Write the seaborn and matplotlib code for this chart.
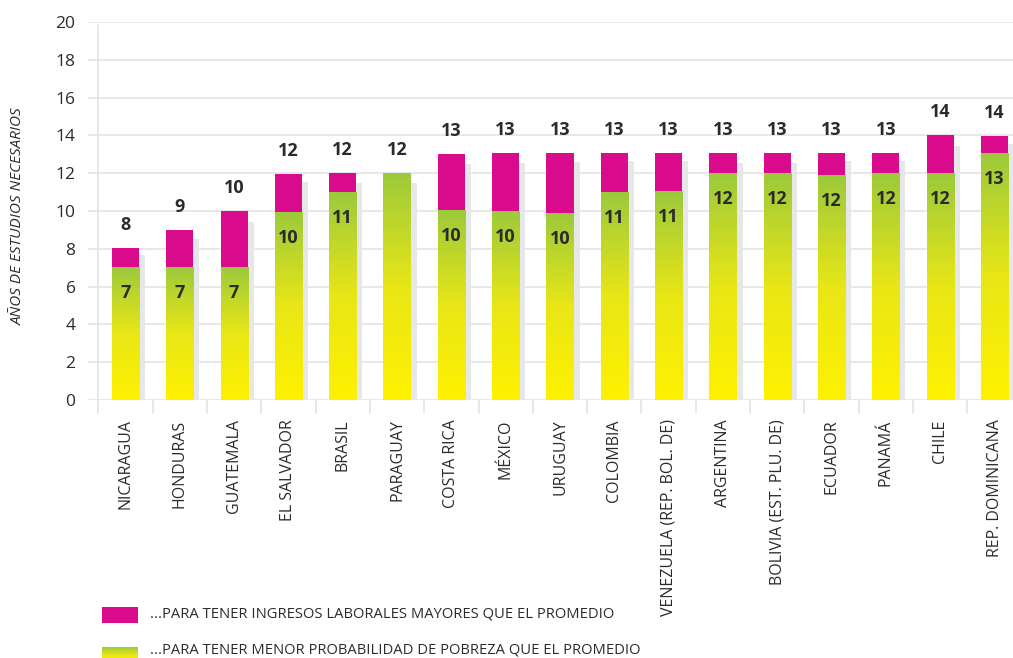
import numpy as np
import pandas as pd
import matplotlib
matplotlib.use("Agg")
import matplotlib.pyplot as plt
import seaborn as sns
from matplotlib.colors import LinearSegmentedColormap
from matplotlib.patches import Rectangle

countries = ["NICARAGUA", "HONDURAS", "GUATEMALA", "EL SALVADOR", "BRASIL", "PARAGUAY",
             "COSTA RICA", "MÉXICO", "URUGUAY", "COLOMBIA", "VENEZUELA (REP. BOL. DE)",
             "ARGENTINA", "BOLIVIA (EST. PLU. DE)", "ECUADOR", "PANAMÁ", "CHILE",
             "REP. DOMINICANA"]
poverty_years = [7.05, 7.05, 7.05, 9.95, 11.0, 12.0, 10.05, 10.0, 9.9, 11.0, 11.05,
                 12.0, 12.0, 11.9, 12.0, 12.0, 13.07]
income_years = [8.04, 9.0, 10.0, 11.96, 12.02, 12.0, 13.0, 13.07, 13.07, 13.07, 13.07,
                13.07, 13.07, 13.07, 13.07, 14.02, 13.97]
shadow_years = [7.67, 8.52, 9.42, 11.53, 11.48, 11.48, 12.49, 12.54, 12.59, 12.65, 12.65,
                12.54, 12.54, 12.65, 12.65, 13.44, 13.55]
top_labels = ["8", "9", "10", "12", "12", "12", "13", "13", "13", "13", "13", "13", "13",
              "13", "13", "14", "14"]
inner_labels = ["7", "7", "7", "10", "11", "", "10", "10", "10", "11", "11", "12", "12",
                "12", "12", "12", "13"]
yticks = [0, 2, 4, 6, 8, 10, 12, 14, 16, 18, 20]
legend_labels = ["...PARA TENER INGRESOS LABORALES MAYORES QUE EL PROMEDIO",
                 "...PARA TENER MENOR PROBABILIDAD DE POBREZA QUE EL PROMEDIO"]
y_title = "AÑOS DE ESTUDIOS NECESARIOS"

MAGENTA = "#D90B8C"
SHADOW = "#E6E7E8"
GRID = "#E4E4E4"
TXT = "#2B2B2B"
grad_cmap = LinearSegmentedColormap.from_list("yg", ["#FFF100", "#E8E616", "#9CC93C"])

sns.set_theme(style="white")
plt.rcParams["font.family"] = ["Open Sans", "DejaVu Sans"]

W, H = 1013, 658
fig = plt.figure(figsize=(W / 100, H / 100), dpi=100)
ax = fig.add_axes([88 / W, (H - 400) / H, (W - 88) / W, 378 / H])

df = pd.DataFrame({"pais": countries, "pobreza": poverty_years,
                   "ingresos": income_years, "sombra": shadow_years})
n = len(countries)
idx = np.arange(n)

# shadow bars (offset to the right)
ax.bar(idx + 0.11, df["sombra"], width=0.5, color=SHADOW, zorder=1, linewidth=0)

sns.barplot(data=df, x="pais", y="ingresos", color=MAGENTA, saturation=1, width=0.5,
            errorbar=None, ax=ax, zorder=2, linewidth=0)
nmag = len(ax.patches)
sns.barplot(data=df, x="pais", y="pobreza", color="#9CC93C", saturation=1, width=0.5,
            errorbar=None, ax=ax, zorder=3, linewidth=0)
green_patches = ax.patches[nmag:]

grad = np.linspace(0, 1, 256).reshape(-1, 1)
for p in green_patches:
    x0, y0 = p.get_x(), p.get_y()
    w, h = p.get_width(), p.get_height()
    p.set_facecolor("none")
    im = ax.imshow(grad, cmap=grad_cmap, origin="lower", aspect="auto",
                   extent=(x0, x0 + w, y0, y0 + h), zorder=3, interpolation="bilinear")
    im.set_clip_path(p)

# labels
for i in range(n):
    ax.text(i, income_years[i] + 0.95, top_labels[i], ha="center", va="baseline",
            fontsize=13, fontweight="bold", color=TXT, zorder=5)
    if inner_labels[i]:
        ax.text(i, poverty_years[i] - 1.65, inner_labels[i], ha="center", va="baseline",
                fontsize=13, fontweight="bold", color=TXT, zorder=5)

ax.set_xlim(-0.69, 16.34)
ax.set_ylim(0, 20)
ax.set_yticks(yticks)
ax.set_yticklabels([str(t) for t in yticks], fontsize=12.5, color=TXT)
ax.yaxis.grid(True, color=GRID, linewidth=1.2, zorder=0)
ax.set_axisbelow(True)
for s in ax.spines.values():
    s.set_visible(False)
ax.tick_params(axis="y", length=0, pad=9)
ax.tick_params(axis="x", length=0, pad=14)
ax.set_xticks(idx)
ax.set_xticklabels(countries, rotation=90, fontsize=11.5, color=TXT, va="top")
ax.set_xlabel("")
ax.set_ylabel(y_title, fontsize=11, fontstyle="italic", color=TXT)
ax.yaxis.set_label_coords(-0.067, 0.487)

# vertical axis line and category separators
ax.plot([-0.5, -0.5], [-0.7, 19.85], color=GRID, linewidth=1.2, clip_on=False, zorder=0)
for i in range(1, n + 1):
    ax.plot([i - 0.5, i - 0.5], [-0.7, 0], color=GRID, linewidth=1.2, clip_on=False, zorder=0)

# legend
fig.patches.append(Rectangle((102 / W, (H - 623) / H), 36 / W, 16 / H,
                             transform=fig.transFigure, facecolor=MAGENTA, edgecolor="none"))
lax = fig.add_axes([102 / W, (H - 663) / H, 36 / W, 16 / H])
lax.imshow(grad, cmap=grad_cmap, origin="lower", aspect="auto")
lax.axis("off")
fig.text(150 / W, (H - 614) / H, legend_labels[0], fontsize=10.6, color=TXT, va="center")
fig.text(150 / W, (H - 650) / H, legend_labels[1], fontsize=10.6, color=TXT, va="center")

fig.savefig("out.png", dpi=100)
